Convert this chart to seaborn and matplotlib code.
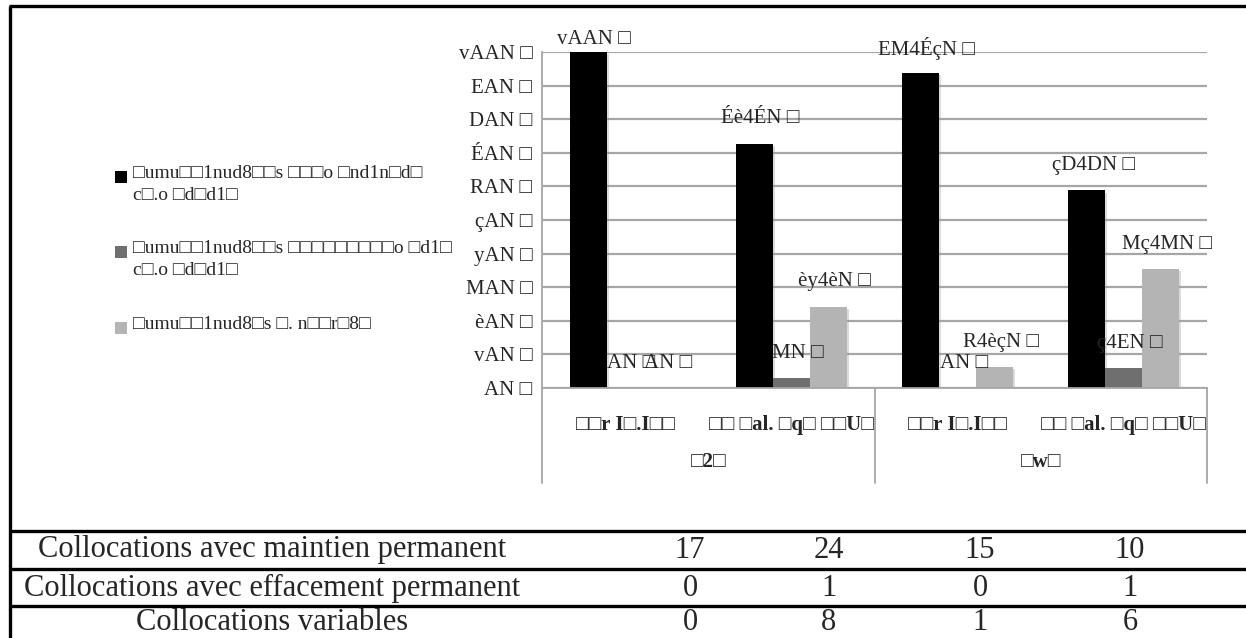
import matplotlib
matplotlib.use("Agg")
import matplotlib.pyplot as plt
import matplotlib.patheffects as pe
import seaborn as sns
import pandas as pd
from matplotlib.lines import Line2D
from matplotlib.patches import Rectangle

# data (text copied as it shows in the reference)
series = [
    "□umu□□1nud8□□s □□□o □nd1n□d□\nc□.o □d□d1□",
    "□umu□□1nud8□□s □□□□□□□□□o □d1□\nc□.o □d□d1□",
    "□umu□□1nud8□s □. n□□r□8□",
]
categories = ["□□r I□.I□□", "□□ □al. □q□ □□U□", "□□r I□.I□□", "□□ □al. □q□ □□U□"]
groups = ["□2□", "□w□"]
maintien_pct = [100, 72.7, 93.75, 58.8]
effacement_pct = [0, 3, 0, 5.9]
variables_pct = [0, 24.2, 6.25, 35.3]
maintien_lbl = ["vAAN □", "Éè4ÉN □", "EM4ÉçN □", "çD4DN □"]
effacement_lbl = ["AN □", "MN □", "AN □", "ç4EN □"]
variables_lbl = ["AN □", "èy4èN □", "R4èçN □", "Mç4MN □"]
ytick_lbl = ["AN □", "vAN □", "èAN □", "MAN □", "yAN □", "çAN □",
             "RAN □", "ÉAN □", "DAN □", "EAN □", "vAAN □"]

table_rows = ["Collocations avec maintien permanent",
              "Collocations avec effacement permanent",
              "Collocations variables"]
maintien_n = [17, 24, 15, 10]
effacement_n = [0, 1, 0, 1]
variables_n = [0, 8, 1, 6]

colors = ["#000000", "#6f6f6f", "#b4b4b4"]

sns.set_style("white")
plt.rcParams['font.family'] = ['Liberation Serif', 'DejaVu Sans']

W, H = 1246, 638
fig = plt.figure(figsize=(W / 100, H / 100), dpi=100)


def fx(px):
    return px / W


def fy(py):
    return 1 - py / H


# long table for seaborn
rows = []
for i in range(4):
    for s, vals, lbls in zip(series, [maintien_pct, effacement_pct, variables_pct],
                             [maintien_lbl, effacement_lbl, variables_lbl]):
        rows.append({"pos": str(i), "serie": s, "pct": vals[i], "lbl": lbls[i]})
df = pd.DataFrame(rows)

ax = fig.add_axes([fx(542), fy(388), fx(1207) - fx(542), fy(52) - fy(388)])
sns.barplot(data=df, x="pos", y="pct", hue="serie", order=[str(i) for i in range(4)],
            hue_order=series, palette=colors, saturation=1, width=0.668,
            errorbar=None, ax=ax, linewidth=0, legend=False)
# soft shadow like the office chart
for bar in ax.patches:
    bar.set_path_effects([pe.SimplePatchShadow(offset=(1.5, -1.5), shadow_rgbFace="#999999",
                                               alpha=0.35), pe.Normal()])
ax.set_ylim(0, 100)
ax.set_xlim(-0.5, 3.5)
ax.set_yticks(range(0, 101, 10))
ax.set_yticklabels(ytick_lbl, fontsize=15)
ax.yaxis.grid(True, color="#a6a6a6", lw=1.6, zorder=0)
ax.set_axisbelow(True)
ax.tick_params(axis="y", length=5, width=1.3, color="#a6a6a6", pad=2, direction="out")
ax.tick_params(axis="x", length=0)
ax.set_xticks([])
ax.set_xlabel("")
ax.set_ylabel("")
for side in ["top", "right"]:
    ax.spines[side].set_visible(False)
for side in ["left", "bottom"]:
    ax.spines[side].set_color("#a6a6a6")
    ax.spines[side].set_linewidth(1.3)

# data labels above the bars
for cont, s in zip(ax.containers, series):
    sub = df[df["serie"] == s]
    for bar, (_, r) in zip(cont, sub.iterrows()):
        cx = bar.get_x() + bar.get_width() / 2
        yy = min(r["pct"] + 7.4, 103.6)
        ax.annotate(r["lbl"], (cx, yy), xytext=(4.5, 0), textcoords="offset points",
                    ha="center", va="center", fontsize=15, annotation_clip=False)

# category axis below
trans = ax.get_xaxis_transform()
lab_y = -(425 - 388) / (388 - 52)
grp_y = -(462 - 388) / (388 - 52)
sep_y = -(483 - 388) / (388 - 52)
for i, c in enumerate(categories):
    ax.text(i, lab_y, c, transform=trans, ha="center", va="center",
            fontsize=15, fontweight="bold")
for g, gname in enumerate(groups):
    ax.text(2 * g + 0.5, grp_y, gname, transform=trans, ha="center", va="center",
            fontsize=15, fontweight="bold")
for xs in [-0.5, 1.5, 3.5]:
    ax.plot([xs, xs], [0, sep_y], transform=trans, color="#a6a6a6", lw=1.3, clip_on=False)

# legend, marker level with the first text line
leg_y = [177, 252, 328]
for s, col, ly in zip(series, colors, leg_y):
    fig.add_artist(Rectangle((fx(115), fy(ly + 6)), fx(12), fy(ly - 6) - fy(ly + 6),
                             transform=fig.transFigure, color=col, lw=0))
    fig.text(fx(133), fy(ly - 12), s, ha="left", va="top", fontsize=14, linespacing=1.4)

# outer frame and table
black = dict(color="black", lw=2.4, solid_capstyle="butt")
fig.add_artist(Line2D([fx(9), 1], [fy(6), fy(6)], **black))
fig.add_artist(Line2D([fx(10), fx(10)], [fy(6), 0], **black))
for yl in [531, 569, 606]:
    fig.add_artist(Line2D([fx(9), 1], [fy(yl), fy(yl)], **black))

row_y = [550, 588, 623]
col_x = [690, 829, 980, 1130]
for r, (name, vals) in enumerate(zip(table_rows, [maintien_n, effacement_n, variables_n])):
    fig.text(fx(272), fy(row_y[r]), name, ha="center", va="center", fontsize=22)
    for cx, v in zip(col_x, vals):
        fig.text(fx(cx), fy(row_y[r]), str(v), ha="center", va="center", fontsize=22)

fig.savefig("out.png", dpi=100)
